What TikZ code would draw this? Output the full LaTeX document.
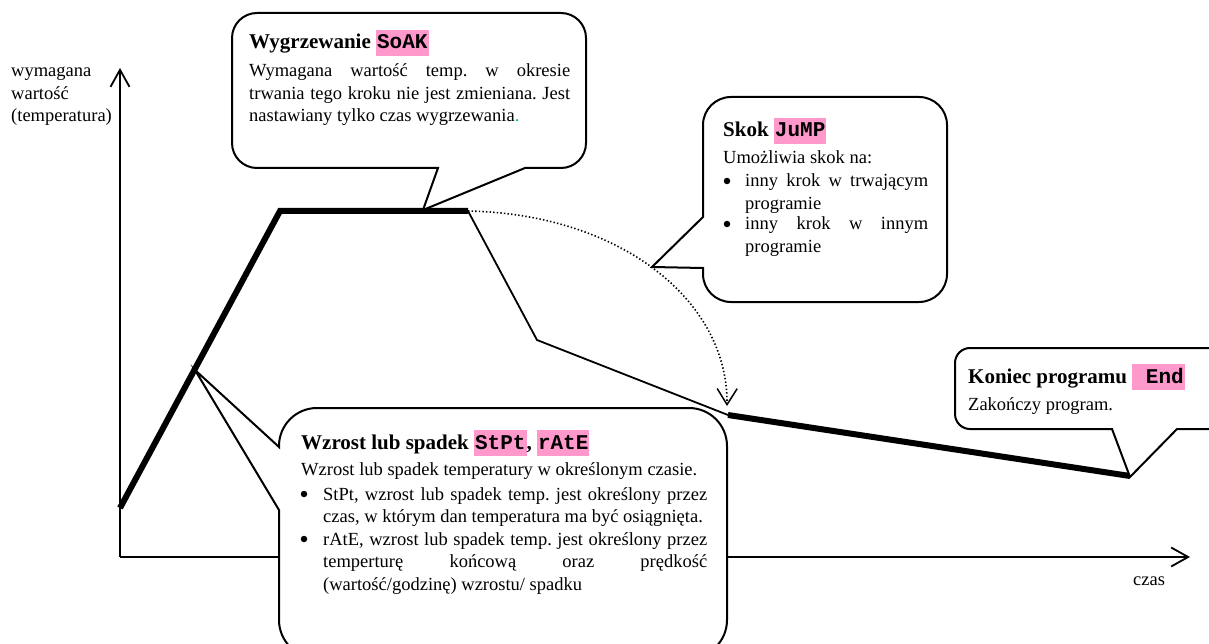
\documentclass[tikz,border=0pt]{standalone}
\usepackage{fontspec}
\setmainfont{Liberation Serif}
\setmonofont{Liberation Mono}
\usetikzlibrary{arrows.meta}
\definecolor{hlpink}{RGB}{255,153,204}
\definecolor{dotgreen}{RGB}{0,190,120}
\newcommand\hlbox[1]{{\setlength{\fboxsep}{0pt}\colorbox{hlpink}{\hspace{1pt}\rule[-7pt]{0pt}{26pt}\fontsize{21}{22}\selectfont\ttfamily\bfseries #1\hspace{1pt}}}}
\newcommand\para[2]{\parbox[t]{#1}{\frenchspacing\hyphenpenalty=10000\exhyphenpenalty=10000 #2}}
\newcommand\titlefont{\fontsize{21}{24}\selectfont\bfseries}
\begin{document}
\frenchspacing
\begin{tikzpicture}[x=1pt,y=-1pt,
  every node/.style={font=\fontsize{18.5}{22.5}\selectfont, inner sep=0pt, anchor=base west},
  title/.style={font=\titlefont},
  bulletdot/.style={circle, fill=black, minimum size=6.5pt, anchor=center},
  axis/.style={line width=1.8pt, -{Straight Barb[length=17pt,width=19pt,line width=1.8pt]}},
  thickline/.style={line width=6pt, line join=miter},
  thinline/.style={line width=1.8pt},
  jumparrow/.style={line width=1.6pt, dash pattern=on 1.4pt off 2.2pt, -{Straight Barb[length=16pt,width=20pt,line width=1.5pt]}},
  callout/.style={draw=black, fill=white, line width=2pt}]
\clip (0,0) rectangle (1209,644);

% axes
\coordinate (O) at (120,557);
\coordinate (Ytop) at (120,68);
\coordinate (Xend) at (1190,557);
\draw[axis] (O) -- (Ytop);
\draw[axis] (O) -- (Xend);
\node (ylabel) at (11,77) {\para{150pt}{\raggedright wymagana\\wartość\\(temperatura)}};
\node (xlabel) at (1133,585) {czas};

% temperature profile
\coordinate (p0) at (120,508);
\coordinate (p1) at (280,211);
\coordinate (p2) at (468,211);
\coordinate (p3) at (537,340);
\coordinate (p4) at (728,415);
\coordinate (p5) at (1130,476);
\draw[thickline] (p0) -- (p1) -- (p2);
\draw[thinline] (p2) -- (p3) -- (p4);
\draw[thickline] (p4) -- (p5);
\coordinate (jumpend) at (727,406);
\draw[jumparrow] (p2) .. controls (620,214) and (728,300) .. (jumpend);

% soak callout
\draw[callout] (400,13) [rounded corners=25pt] -- (586,13) -- (586,168)
  [sharp corners] -- (525,168) -- (423,210) -- (438,168)
  [rounded corners=25pt] -- (232,168) -- (232,13) -- cycle;
\node[title] (soakt) at (249,49) {Wygrzewanie \hlbox{SoAK}};
\node (soakb) at (249,77) {\para{321pt}{Wymagana wartość temp. w okresie\linebreak trwania tego kroku nie jest zmieniana. Jest\linebreak nastawiany tylko czas wygrzewania{\color{dotgreen}.}}};

% jump callout
\draw[callout] (800,97) [rounded corners=28pt] -- (947,97) -- (947,302) -- (703,302)
  [sharp corners] -- (703,268) -- (652,267) -- (703,217)
  [rounded corners=28pt] -- (703,97) -- cycle;
\node[title] (jumpt) at (723,137) {Skok \hlbox{JuMP}};
\node (jumpb) at (723,164) {Umożliwia skok na:};
\node[bulletdot] (jumpd1) at (727,181) {};
\node (jumpi1) at (745,187) {\para{183pt}{inny krok w trwającym programie}};
\node[bulletdot] (jumpd2) at (727,224) {};
\node (jumpi2) at (745,230) {\para{183pt}{inny krok w innym programie}};

% ramp callout
\draw[callout] (500,408) [rounded corners=38pt] -- (727,408) -- (727,658) -- (279,658)
  [sharp corners] -- (279,510) -- (195,370) -- (279,447)
  [rounded corners=38pt] -- (279,408) -- cycle;
\node[title] (rampt) at (301,449) {Wzrost lub spadek \hlbox{StPt}, \hlbox{rAtE}};
\node (rampb) at (301,475) {Wzrost lub spadek temperatury w określonym czasie.};
\node[bulletdot] (rampd1) at (304,494) {};
\node (rampi1) at (323,500) {\para{384pt}{StPt, wzrost lub spadek temp. jest określony przez\linebreak czas, w którym dan temperatura ma być osiągnięta.}};
\node[bulletdot] (rampd2) at (304,539) {};
\node (rampi2) at (323,545) {\para{384pt}{rAtE, wzrost lub spadek temp. jest określony przez\linebreak temperturę końcową oraz prędkość\linebreak (wartość/godzinę) wzrostu/ spadku}};

% end callout
\draw[callout] (1100,348) [rounded corners=15pt] -- (1230,348) -- (1230,429)
  [sharp corners] -- (1177,429) -- (1130,477) -- (1112,429)
  [rounded corners=15pt] -- (955,429) -- (955,348) -- cycle;
\node[title] (endt) at (968,383) {Koniec programu \hlbox{\ End}};
\node (endb) at (968,410) {Zakończy program.};
\end{tikzpicture}
\end{document}
